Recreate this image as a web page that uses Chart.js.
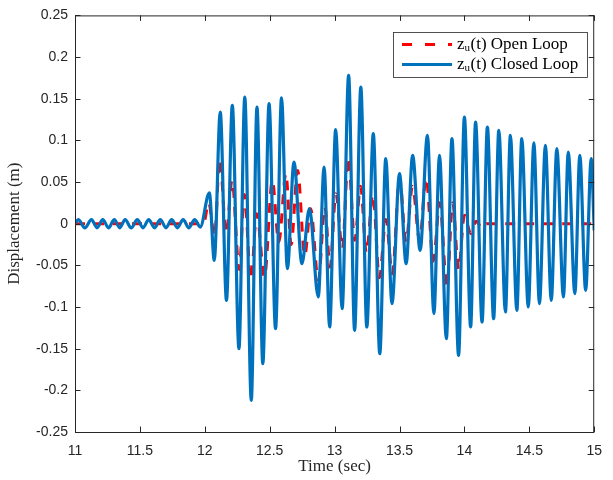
<!DOCTYPE html>
<html>
<head>
<meta charset="utf-8">
<title>z_u(t) Open / Closed Loop</title>
<script src="https://cdn.jsdelivr.net/npm/chart.js@4.4.0/dist/chart.umd.min.js"></script>
<style>
  html, body { margin: 0; padding: 0; background: #fff; }
  canvas { display: block; }
</style>
</head>
<body>
<canvas id="zuChart" width="613" height="480"></canvas>
<script>
// values (peaks / troughs of each trace)
const tClosed = [
  11.0, 11.025, 11.076, 11.127, 11.170, 11.214, 11.258, 11.303, 11.345, 11.386,
  11.433, 11.480, 11.524, 11.568, 11.612, 11.657, 11.701, 11.745, 11.789, 11.833,
  11.878, 11.922, 11.965,
  12.035, 12.073, 12.119, 12.167, 12.212, 12.263, 12.308, 12.358, 12.402, 12.447,
  12.495, 12.545, 12.591, 12.636, 12.687, 12.748, 12.806, 12.874, 12.919, 12.962,
  13.008, 13.058, 13.108, 13.154, 13.202, 13.248, 13.298, 13.348, 13.394, 13.442,
  13.500, 13.551, 13.601, 13.659, 13.715, 13.765, 13.808, 13.861, 13.904, 13.955,
  14.000, 14.048, 14.086, 14.136, 14.177, 14.225, 14.265, 14.316, 14.354, 14.404,
  14.442, 14.492, 14.535, 14.578, 14.624, 14.669, 14.712, 14.763, 14.800, 14.851,
  14.889, 14.934, 14.977, 15.0
];
const zClosed = [
  0.0, 0.005, -0.005, 0.005, -0.005, 0.005, -0.005, 0.005, -0.005, 0.005,
  -0.005, 0.005, -0.005, 0.005, -0.005, 0.005, -0.005, 0.005, -0.005, 0.005,
  -0.005, 0.005, -0.004,
  0.037, -0.044, 0.134, -0.092, 0.142, -0.150, 0.152, -0.212, 0.140, -0.168,
  0.144, -0.126, 0.151, -0.054, 0.074, -0.048, 0.018, -0.088, 0.068, -0.124,
  0.113, -0.102, 0.178, -0.128, 0.164, -0.124, 0.108, -0.156, 0.078, -0.096,
  0.060, -0.048, 0.082, -0.032, 0.106, -0.108, 0.082, -0.138, 0.102, -0.158,
  0.128, -0.124, 0.122, -0.118, 0.116, -0.114, 0.112, -0.106, 0.106, -0.104,
  0.102, -0.100, 0.097, -0.096, 0.094, -0.092, 0.090, -0.088, 0.086, -0.084,
  0.082, -0.080, 0.078, -0.008
];

const tOpen = [
  11.0, 11.99, 12.03, 12.075, 12.115, 12.165, 12.21, 12.265, 12.305, 12.355,
  12.40, 12.46, 12.52, 12.57, 12.625, 12.665, 12.715, 12.77, 12.815, 12.875,
  12.925, 12.965, 13.01, 13.06, 13.105, 13.155, 13.20, 13.245, 13.295, 13.345,
  13.395, 13.445, 13.50, 13.55, 13.60, 13.655, 13.705, 13.76, 13.81, 13.865,
  13.91, 13.955, 14.00, 14.05, 14.09, 14.135, 14.17, 15.0
];
const zOpen = [
  0.0, 0.0, 0.025, -0.015, 0.078, -0.012, 0.052, -0.055, 0.035, -0.067,
  0.012, -0.064, 0.052, -0.022, 0.060, -0.025, 0.064, -0.038, 0.018, -0.068,
  0.020, -0.052, 0.036, -0.030, 0.080, -0.020, 0.045, -0.035, 0.035, -0.065,
  0.005, -0.060, 0.055, -0.022, 0.045, -0.020, 0.055, -0.045, 0.025, -0.075,
  0.025, -0.055, 0.010, -0.012, 0.003, -0.005, 0.0, 0.0
];

const seriesNames = ['Open Loop', 'Closed Loop'];

const xTicks = [11, 11.5, 12, 12.5, 13, 13.5, 14, 14.5, 15];
const xTickLabels = ['11', '11.5', '12', '12.5', '13', '13.5', '14', '14.5', '15'];
const yTicks = [-0.25, -0.2, -0.15, -0.1, -0.05, 0, 0.05, 0.1, 0.15, 0.2, 0.25];
const yTickLabels = ['-0.25', '-0.2', '-0.15', '-0.1', '-0.05', '0', '0.05', '0.1', '0.15', '0.2', '0.25'];

const axisColor = '#262626';
const serif = 'Liberation Serif';

function toPoints(ts, zs) {
  return ts.map((t, i) => ({ x: t, y: zs[i] }));
}

function labelFor(values, labels, v) {
  const i = values.findIndex(u => Math.abs(u - v) < 1e-9);
  return i >= 0 ? labels[i] : '';
}

// box, inward ticks and legend, drawn over the lines
const frameAndLegend = {
  id: 'frameAndLegend',
  afterDatasetsDraw(chart) {
    const { ctx, chartArea: a, scales: { x, y } } = chart;
    ctx.save();
    ctx.strokeStyle = axisColor;
    ctx.lineWidth = 1;
    ctx.strokeRect(a.left + 0.5, a.top + 0.5, a.right - a.left - 1, a.bottom - a.top);

    const tl = 5.5;
    ctx.beginPath();
    xTicks.forEach(v => {
      const px = Math.round(x.getPixelForValue(v)) + 0.5;
      ctx.moveTo(px, a.bottom); ctx.lineTo(px, a.bottom - tl);
      ctx.moveTo(px, a.top); ctx.lineTo(px, a.top + tl);
    });
    yTicks.forEach(v => {
      const py = Math.round(y.getPixelForValue(v)) + 0.5;
      ctx.moveTo(a.left, py); ctx.lineTo(a.left + tl, py);
      ctx.moveTo(a.right, py); ctx.lineTo(a.right - tl, py);
    });
    ctx.stroke();

    // legend
    const bx = 393, by = 32, bw = 194, bh = 45;
    ctx.fillStyle = '#fff';
    ctx.fillRect(bx, by, bw, bh);
    ctx.strokeStyle = axisColor;
    ctx.lineWidth = 0.8;
    ctx.strokeRect(bx + 0.5, by + 0.5, bw, bh);

    chart.data.datasets.forEach((ds, i) => {
      const ry = by + 12.5 + i * 20;
      ctx.save();
      ctx.strokeStyle = ds.borderColor;
      ctx.lineWidth = ds.borderWidth;
      ctx.setLineDash(ds.legendDash || []);
      ctx.beginPath();
      ctx.moveTo(bx + 9, ry);
      ctx.lineTo(bx + 59, ry);
      ctx.stroke();
      ctx.restore();

      ctx.fillStyle = '#000';
      ctx.textBaseline = 'middle';
      ctx.textAlign = 'left';
      let tx = bx + 64;
      ctx.font = '17px "' + serif + '"';
      ctx.fillText('z', tx, ry);
      tx += ctx.measureText('z').width;
      ctx.font = '11px "' + serif + '"';
      ctx.fillText('u', tx, ry + 4);
      tx += ctx.measureText('u').width + 0.5;
      ctx.font = '17px "' + serif + '"';
      ctx.fillText('(t) ' + seriesNames[i], tx, ry);
    });
    ctx.restore();
  }
};

Chart.defaults.font.family = 'Liberation Sans';

const ctx = document.getElementById('zuChart').getContext('2d');
const zuChart = new Chart(ctx, {
  type: 'line',
  data: {
    datasets: [
      {
        label: 'z_u(t) ' + seriesNames[0],
        data: toPoints(tOpen, zOpen),
        borderColor: '#ff0000',
        borderWidth: 3,
        borderDash: [10, 9],
        legendDash: [10, 13],
        cubicInterpolationMode: 'monotone',
        pointRadius: 0,
        fill: false,
        order: 1
      },
      {
        label: 'z_u(t) ' + seriesNames[1],
        data: toPoints(tClosed, zClosed),
        borderColor: '#0072bd',
        borderWidth: 3.2,
        cubicInterpolationMode: 'monotone',
        pointRadius: 0,
        fill: false,
        order: 0
      }
    ]
  },
  options: {
    responsive: false,
    animation: false,
    layout: { padding: { top: 15, right: 10, left: 0, bottom: 0 } },
    plugins: {
      legend: { display: false },
      tooltip: { enabled: false }
    },
    scales: {
      x: {
        type: 'linear',
        min: 11,
        max: 15,
        afterBuildTicks: s => { s.ticks = xTicks.map(v => ({ value: v })); },
        afterFit: s => { s.height = 48; },
        grid: { display: false, drawTicks: false },
        border: { display: false },
        ticks: {
          color: axisColor,
          font: { size: 14 },
          padding: 11,
          maxRotation: 0,
          callback: v => labelFor(xTicks, xTickLabels, v)
        },
        title: {
          display: true,
          text: 'Time (sec)',
          color: '#262626',
          font: { family: serif, size: 17 },
          padding: { top: 0, bottom: 3 }
        }
      },
      y: {
        type: 'linear',
        min: -0.25,
        max: 0.25,
        afterBuildTicks: s => { s.ticks = yTicks.map(v => ({ value: v })); },
        afterFit: s => { s.width = 75; },
        grid: { display: false, drawTicks: false },
        border: { display: false },
        ticks: {
          color: axisColor,
          font: { size: 14 },
          padding: 7,
          callback: v => labelFor(yTicks, yTickLabels, v)
        },
        title: {
          display: true,
          text: 'Displacement (m)',
          color: '#262626',
          font: { family: serif, size: 17 },
          padding: { top: 4, bottom: 0 }
        }
      }
    }
  },
  plugins: [frameAndLegend]
});
</script>
</body>
</html>
